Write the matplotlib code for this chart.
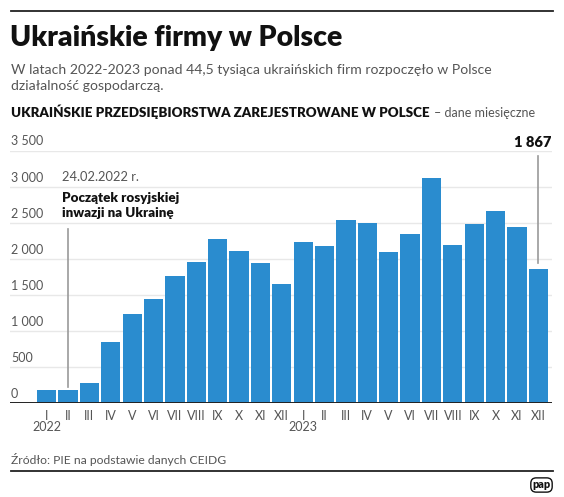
import matplotlib
matplotlib.use('Agg')
import matplotlib.pyplot as plt
import numpy as np

# data (monthly registrations, Jan 2022 - Dec 2023)
months = ['I', 'II', 'III', 'IV', 'V', 'VI', 'VII', 'VIII', 'IX', 'X', 'XI', 'XII'] * 2
years = ['2022', '2023']
values_2022 = [180, 180, 287, 847, 1241, 1449, 1769, 1954, 2273, 2111, 1940, 1648]
values_2023 = [2232, 2176, 2537, 2500, 2097, 2347, 3121, 2199, 2482, 2662, 2440, 1867]
values = values_2022 + values_2023
yticks = [0, 500, 1000, 1500, 2000, 2500, 3000, 3500]
ytick_labels = ['0', '500', '1 000', '1 500', '2 000', '2 500', '3 000', '3 500']

W, H = 564, 497
FONT = 'Lato'
BLUE = '#2a8ccf'
GRAY = '#555555'

plt.rcParams['font.family'] = [FONT, 'DejaVu Sans']

fig = plt.figure(figsize=(W / 100, H / 100), dpi=100)


def fx(px):
    return px / W


def fy(py):
    return 1 - py / H


# header
fig.add_artist(plt.Line2D([fx(11), fx(553)], [fy(11), fy(11)], color='#222222', lw=1.3))
fig.text(fx(10), fy(46), 'Ukraińskie firmy w Polsce', fontsize=20.4, fontweight='heavy',
         color='#111111', va='baseline')
fig.text(fx(11), fy(74), 'W latach 2022-2023 ponad 44,5 tysiąca ukraińskich firm rozpoczęło w Polsce',
         fontsize=10.1, color=GRAY, va='baseline')
fig.text(fx(11), fy(90), 'działalność gospodarczą.', fontsize=10.1, color=GRAY, va='baseline')
hdr = fig.text(fx(11), fy(117), 'UKRAIŃSKIE PRZEDSIĘBIORSTWA ZAREJESTROWANE W POLSCE',
               fontsize=9.6, fontweight='heavy', color='#111111', va='baseline')
fig.canvas.draw()
bb = hdr.get_window_extent()
fig.text(bb.x1 / W + fx(4), fy(117), '– dane miesięczne', fontsize=9, color=GRAY, va='baseline')

# chart
left, right = 10, 552
bottom, top = 403.3, 150.7
ax = fig.add_axes([fx(left), fy(bottom), (right - left) / W, (bottom - top) / H])
x = np.arange(len(values))
ax.bar(x, values, width=0.9, color=BLUE, zorder=2)
ax.set_xlim(-1.715, 23.64)
ax.set_ylim(0, 3500)
for s in ax.spines.values():
    s.set_visible(False)
ax.set_xticks([])
ax.set_yticks([])
for v, lab in zip(yticks, ytick_labels):
    if v > 0:
        ax.axhline(v, color='#e8e8e8', lw=1, zorder=1)
    ax.text(0.002, v + 45, lab, transform=ax.get_yaxis_transform(), fontsize=9,
            color=GRAY, va='bottom', ha='left')
ax.axhline(0, color='#222222', lw=1.4, zorder=3)

for i, m in enumerate(months):
    ax.text(i, -175, m, fontsize=9, color=GRAY, ha='center', va='center')
for k, yr in enumerate(years):
    ax.text(12 * k, -335, yr, fontsize=9, color=GRAY, ha='center', va='center')

# annotations
ax.plot([1, 1], [228, 2420], color='#999999', lw=1.2, zorder=4)
ax.text(0.72, 3130, '24.02.2022 r.', fontsize=9.3, color=GRAY, va='center', ha='left')
ax.text(0.72, 2560, 'Początek rosyjskiej\ninwazji na Ukrainę', fontsize=9.6,
        fontweight='heavy', color='#111111', va='bottom', ha='left', linespacing=1.25)

ax.plot([23, 23], [1950, 3420], color='#999999', lw=1.2, zorder=4, clip_on=False)
ax.text(23.6, 3620, '1 867', fontsize=10.5, fontweight='heavy', color='#111111',
        va='center', ha='right', clip_on=False)

# footer
fig.text(fx(11), fy(464), 'Źródło: PIE na podstawie danych CEIDG', fontsize=8.7,
         color=GRAY, va='baseline')
fig.add_artist(plt.Line2D([fx(11), fx(553)], [fy(471), fy(471)], color='#222222', lw=1.3))
fig.text(fx(541.5), fy(485), 'pap', fontsize=7.8, fontweight='heavy', color='#111111',
         ha='center', va='center',
         bbox=dict(boxstyle='round,pad=0.15,rounding_size=0.5', fc='white', ec='#111111', lw=1))

fig.savefig('out.png', dpi=100)
